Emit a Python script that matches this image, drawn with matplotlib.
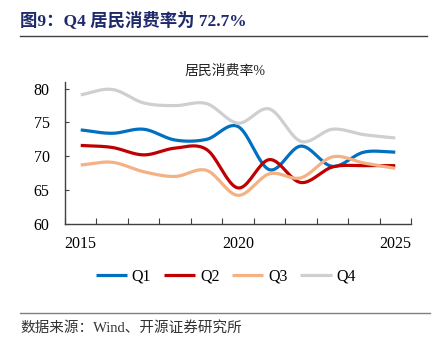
import numpy as np
import matplotlib
matplotlib.use("Agg")
import matplotlib.pyplot as plt

# 数据：每年各季度居民消费率(%)
years = [2015, 2016, 2017, 2018, 2019, 2020, 2021, 2022, 2023, 2024, 2025]
q1 = [73.9, 73.4, 74.0, 72.4, 72.5, 74.4, 68.0, 71.5, 68.5, 70.6, 70.6]
q2 = [71.6, 71.3, 70.2, 71.2, 71.0, 65.3, 69.5, 66.1, 68.4, 68.6, 68.6]
q3 = [68.7, 69.1, 67.7, 67.0, 67.9, 64.2, 67.4, 66.8, 69.9, 69.0, 68.2]
q4 = [79.1, 79.9, 77.9, 77.5, 77.8, 74.9, 77.0, 72.2, 74.0, 73.2, 72.7]
series_names = ["Q1", "Q2", "Q3", "Q4"]
colors = ["#0070C0", "#C00000", "#F4B183", "#CFCFCF"]

plt.rcParams['font.family'] = ['Liberation Serif', 'Noto Sans CJK SC']


# 平滑曲线(类似Excel的平滑线)，只是绘制方式，数据点不变
def smooth(x, y, n=20):
    x = np.asarray(x, float)
    y = np.asarray(y, float)
    px = np.concatenate([[2 * x[0] - x[1]], x, [2 * x[-1] - x[-2]]])
    py = np.concatenate([[2 * y[0] - y[1]], y, [2 * y[-1] - y[-2]]])
    xs, ys = [], []
    for i in range(1, len(px) - 2):
        t = np.linspace(0, 1, n, endpoint=False)
        for arr, out in ((px, xs), (py, ys)):
            p0, p1, p2, p3 = arr[i - 1], arr[i], arr[i + 1], arr[i + 2]
            out.extend(0.5 * ((2 * p1) + (-p0 + p2) * t
                              + (2 * p0 - 5 * p1 + 4 * p2 - p3) * t ** 2
                              + (-p0 + 3 * p1 - 3 * p2 + p3) * t ** 3))
    xs.append(x[-1])
    ys.append(y[-1])
    return np.array(xs), np.array(ys)


fig = plt.figure(figsize=(4.32, 3.51), dpi=100)
ax = fig.add_axes([65 / 432, 1 - 223.7 / 351, (411 - 65) / 432, (223.7 - 82) / 351])

for name, vals, c in zip(series_names, [q1, q2, q3, q4], colors):
    sx, sy = smooth(years, vals)
    ax.plot(sx, sy, color=c, lw=2.3, label=name, solid_capstyle='butt')

ax.set_xlim(years[0] - 0.5, years[-1] + 0.5)
ax.set_ylim(60, 81)
ax.set_yticks([60, 65, 70, 75, 80])
ax.set_xticks(np.arange(years[0] - 0.5, years[-1] + 1, 1))
ax.set_xticklabels([])
ax.set_xticks([2015, 2020, 2025], minor=True)
ax.set_xticklabels(["2015", "2020", "2025"], minor=True)
ax.tick_params(axis='x', which='major', direction='in', length=4, color='#404040')
ax.tick_params(axis='x', which='minor', length=0, pad=9, labelsize=11.5)
ax.tick_params(axis='y', direction='in', length=3, pad=11, labelsize=11.5, color='#404040')
for s in ['top', 'right']:
    ax.spines[s].set_visible(False)
for s in ['left', 'bottom']:
    ax.spines[s].set_color('#404040')
    ax.spines[s].set_linewidth(1.0)

ax.legend(loc='center', bbox_to_anchor=(0.465, -0.375), ncol=4, frameon=False,
          fontsize=11.5, handlelength=1.95, handletextpad=0.3, columnspacing=0.8)

fig.text(20 / 432, 1 - 20 / 351, "图9：Q4 居民消费率为 72.7%", fontsize=12.5, fontweight='bold',
         color='#1F2A6B', va='center', ha='left')
fig.add_artist(plt.Line2D([20 / 432, 427 / 432], [1 - 36 / 351, 1 - 36 / 351], color='#404040', lw=1))
fig.text(225 / 432, 1 - 71 / 351, "居民消费率%", fontsize=10, ha='center', va='center', color='#222222')
fig.add_artist(plt.Line2D([20 / 432, 430 / 432], [1 - 313 / 351, 1 - 313 / 351], color='#808080', lw=1))
fig.text(20 / 432, 1 - 328 / 351, "数据来源：Wind、开源证券研究所", fontsize=10.5, ha='left', va='center',
         color='#333333')

fig.savefig("out.png", dpi=100)
